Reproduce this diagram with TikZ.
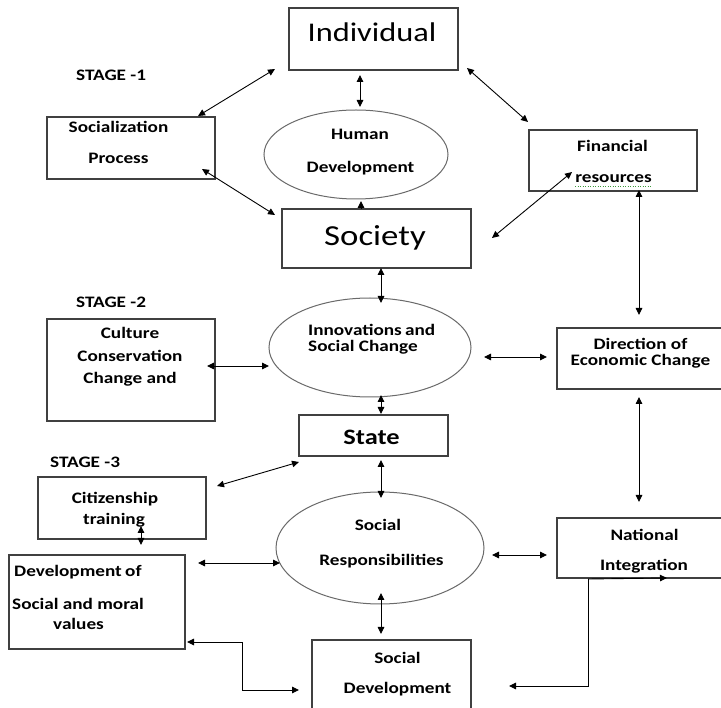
\documentclass[tikz,border=0pt]{standalone}
\usepackage{fontspec}
\setmainfont{Carlito}[FakeStretch=1.2]
\usetikzlibrary{arrows.meta,shapes.geometric}
\definecolor{boxgray}{HTML}{404040}
\definecolor{ellgray}{HTML}{6A6A6A}
\definecolor{spellgreen}{HTML}{3C9A3C}
\tikzset{
  box/.style={draw=boxgray, line width=1.2pt, rectangle, inner sep=0pt},
  ell/.style={draw=ellgray, line width=1pt, ellipse, inner sep=0pt},
  txt/.style={font=\fontsize{16}{19}\selectfont\bfseries, inner sep=0pt, anchor=base},
  txtl/.style={txt, anchor=base west},
  big/.style={font=\fontsize{27}{30}\selectfont, inner sep=0pt, anchor=base},
  dbl/.style={{Triangle[length=7pt,width=6.5pt]}-{Triangle[length=7pt,width=6.5pt]}, line width=0.9pt, black},
  one/.style={-{Triangle[length=7pt,width=6.5pt]}, line width=0.9pt, black}
}
\begin{document}
\begin{tikzpicture}[x=1pt,y=-1pt]
\clip (0,0) rectangle (721,708);
\fill[white] (0,0) rectangle (721,708);
% boxes
\node[box, minimum width=169pt, minimum height=62pt] (ind) at (373.5,39) {};
\node[box, minimum width=168pt, minimum height=62pt] (soc) at (131,148) {};
\node[ell, minimum width=184pt, minimum height=89pt] (hd) at (356,154.5) {};
\node[box, minimum width=189pt, minimum height=59pt] (society) at (376.5,238.5) {};
\node[box, minimum width=168pt, minimum height=61pt] (fin) at (613,160.5) {};
\node[box, minimum width=168pt, minimum height=102pt] (cul) at (131,370) {};
\node[ell, minimum width=202pt, minimum height=99pt] (inn) at (370,347.5) {};
\node[box, minimum width=173pt, minimum height=61pt] (dir) at (643.5,358.5) {};
\node[box, minimum width=149pt, minimum height=41pt] (state) at (373.5,435.5) {};
\node[box, minimum width=168pt, minimum height=62pt] (cit) at (122,508) {};
\node[box, minimum width=176pt, minimum height=94pt] (dev) at (97,602) {};
\node[ell, minimum width=208pt, minimum height=112pt] (resp) at (380,548) {};
\node[box, minimum width=173pt, minimum height=60pt] (nat) at (643.5,548) {};
\node[box, minimum width=159pt, minimum height=80pt] (sdev) at (391.5,680) {};
% texts
\node[big] (tind) at (372,42) {Individual};
\node[big, font=\fontsize{29}{32}\selectfont] (tsociety) at (375,246) {Society};
\node[txt, font=\fontsize{22}{24}\selectfont\bfseries] (tstate) at (371.5,445) {State};
\node[txtl] (st1) at (76,81) {STAGE -1};
\node[txtl] (st2) at (76,308) {STAGE -2};
\node[txtl] (st3) at (50,468) {STAGE -3};
\node[txt] (t1) at (118.5,133) {Socialization};
\node[txt] (t2) at (118.5,164) {Process};
\node[txt] (t3) at (360,140) {Human};
\node[txt] (t4) at (360.5,173) {Development};
\node[txt] (t5) at (612.5,152) {Financial};
\node[txt] (t6) at (613.5,183) {resources};
\draw[spellgreen, line width=0.9pt, dash pattern=on 1pt off 1.5pt] (575,186) -- (652,186);
\node[txt] (t7) at (130,339) {Culture};
\node[txt] (t8) at (130,362) {Conservation};
\node[txt] (t9) at (130,384) {Change and};
\node[txtl] (t10) at (308,336) {Innovations\hspace{-1pt} and};
\node[txtl] (t11) at (308,352) {Social Change};
\node[txt] (t12) at (640.5,350) {Direction of};
\node[txt] (t13) at (640.5,366) {Economic Change};
\node[txt] (t14) at (115,504) {Citizenship};
\node[txt] (t15) at (114,525) {training};
\node[txtl] (t16) at (14,577) {Development\hspace{-1pt} of};
\node[txtl] (t17) at (12,610) {Social and moral};
\node[txt] (t18) at (78.5,630) {values};
\node[txt] (t19) at (378,531) {Social};
\node[txt] (t20) at (381.5,566) {Responsibilities};
\node[txt] (t21) at (644.5,541) {National};
\node[txt] (t22) at (644,571) {Integration};
\node[txt] (t23) at (397.5,663) {Social};
\node[txt] (t24) at (397.5,693) {Development};
% connector end points
\coordinate (a1s) at (275,69);  \coordinate (a1e) at (198,116);
\coordinate (a2s) at (202,169); \coordinate (a2e) at (275,215);
\coordinate (a3s) at (360,75);  \coordinate (a3e) at (360,107);
\coordinate (a4s) at (361,209); \coordinate (a4e) at (361,201);
\coordinate (a5s) at (467,68);  \coordinate (a5e) at (528,122);
\coordinate (a6s) at (492,238); \coordinate (a6e) at (572,172);
\coordinate (a7s) at (639,190); \coordinate (a7e) at (639,315);
\coordinate (a8s) at (381,268); \coordinate (a8e) at (381,303);
\coordinate (a9s) at (207,366); \coordinate (a9e) at (269,366);
\coordinate (a10s) at (484,357); \coordinate (a10e) at (547,357);
\coordinate (a11s) at (381,395); \coordinate (a11e) at (381,414);
\coordinate (a12s) at (299,462); \coordinate (a12e) at (217,486);
\coordinate (a13s) at (381,460); \coordinate (a13e) at (381,498);
\coordinate (a14s) at (141,526); \coordinate (a14e) at (141,545);
\coordinate (a15s) at (198,563); \coordinate (a15e) at (280,563);
\coordinate (a16s) at (492,555); \coordinate (a16e) at (547,555);
\coordinate (a17s) at (639,397); \coordinate (a17e) at (639,502);
\coordinate (a18s) at (381,593); \coordinate (a18e) at (381,634);
\coordinate (a19s) at (187,642); \coordinate (a19e) at (299,690);
\coordinate (a20s) at (588,579); \coordinate (a20e) at (509,686);
\coordinate (a21e) at (667,578);
% connectors
\draw[dbl] (a1s) -- (a1e);
\draw[dbl] (a2s) -- (a2e);
\draw[dbl] (a3s) -- (a3e);
\draw[one] (a4s) -- (a4e);
\draw[dbl] (a5s) -- (a5e);
\draw[dbl] (a6s) -- (a6e);
\draw[dbl] (a7s) -- (a7e);
\draw[dbl] (a8s) -- (a8e);
\draw[dbl] (a9s) -- (a9e);
\draw[dbl] (a10s) -- (a10e);
\draw[dbl] (a11s) -- (a11e);
\draw[dbl] (a12s) -- (a12e);
\draw[dbl] (a13s) -- (a13e);
\draw[dbl] (a14s) -- (a14e);
\draw[dbl] (a15s) -- (a15e);
\draw[dbl] (a16s) -- (a16e);
\draw[dbl] (a17s) -- (a17e);
\draw[dbl] (a18s) -- (a18e);
\draw[dbl] (a19s) -- (242,642) -- (242,690) -- (a19e);
\draw[one] (a20s) -- (588,686) -- (a20e);
\draw[one] (a20s) -- (a21e);
\end{tikzpicture}
\end{document}
